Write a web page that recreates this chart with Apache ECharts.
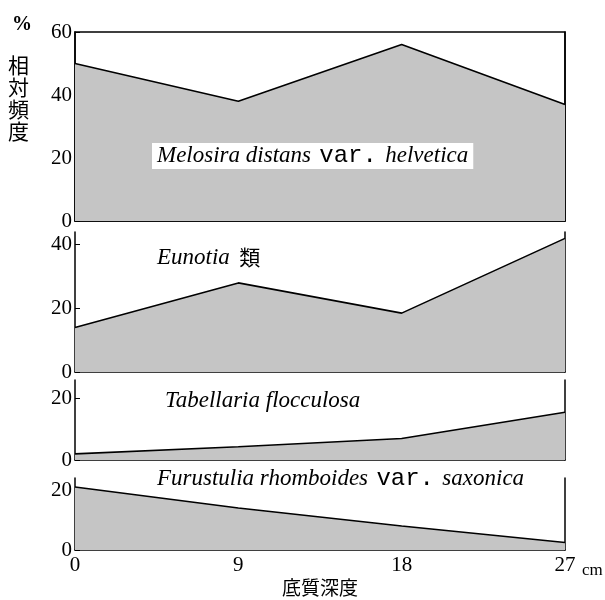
<!DOCTYPE html>
<html><head><meta charset="utf-8">
<script src="https://cdn.jsdelivr.net/npm/echarts@6/dist/echarts.min.js"></script>
<style>html,body{margin:0;padding:0;background:#fff}#c{width:605px;height:600px}</style>
</head><body><div id="c"></div>
<script>
const depths = [0, 9, 18, 27];
const xTicks = ['0', '9', '18', '27'];
const melosira = [50, 38, 56, 37];
const eunotia = [14, 28, 18.5, 42];
const tabellaria = [2, 4.3, 7, 15.5];
const furustulia = [21, 14, 8, 2.5];
const yMax = [60, 44, 26, 24];
const yTickValues = [[0, 20, 40, 60], [0, 20, 40], [0, 20], [0, 20]];

const panels = [
  {top: 32, height: 189, data: melosira, box: true},
  {top: 232, height: 140, data: eunotia},
  {top: 380, height: 80, data: tabellaria},
  {top: 478, height: 72, data: furustulia}
];
const serif = '"Liberation Serif", "DejaVu Serif", serif';
const mono = '"Liberation Mono", "DejaVu Sans Mono", monospace';
const cjk = '"Noto Sans CJK JP", sans-serif';

const grid = [], xAxis = [], yAxis = [], series = [];
panels.forEach((p, i) => {
  grid.push({left: 75, right: 40, top: p.top, height: p.height,
    show: !!p.box, borderColor: '#000', borderWidth: 1.5, backgroundColor: 'transparent'});
  xAxis.push({type: 'value', gridIndex: i, min: 0, max: 27, interval: 9,
    axisLine: {show: true, onZero: false, lineStyle: {color: '#000', width: 1.5}},
    axisTick: {show: false}, splitLine: {show: false},
    axisLabel: {show: i === 3, color: '#000', fontFamily: serif, fontSize: 21, margin: 5,
      formatter: v => xTicks[depths.indexOf(v)] ?? ''}});
  yAxis.push({type: 'value', gridIndex: i, min: 0, max: yMax[i], interval: 20,
    axisLine: {show: true, lineStyle: {color: '#000', width: 1.5}},
    axisTick: {show: true, inside: true, length: 5, lineStyle: {color: '#000'},
      customValues: yTickValues[i]},
    splitLine: {show: false},
    axisLabel: {color: '#000', fontFamily: serif, fontSize: 21, margin: 3,
      customValues: yTickValues[i]}});
  yAxis.push({type: 'value', gridIndex: i, position: 'right', min: 0, max: yMax[i],
    axisLine: {show: true, lineStyle: {color: '#000', width: 1.5}},
    axisTick: {show: false}, axisLabel: {show: false}, splitLine: {show: false}});
  series.push({type: 'line', xAxisIndex: i, yAxisIndex: i * 2,
    data: depths.map((d, k) => [d, p.data[k]]),
    symbol: 'none', lineStyle: {color: '#000', width: 1.6},
    areaStyle: {color: '#c5c5c5', opacity: 1}, silent: true, z: 1});
});

const it = {fontFamily: serif, fontStyle: 'italic', fontSize: 23, fill: '#000', color: '#000'};
const mn = {fontFamily: mono, fontSize: 24, fill: '#000', color: '#000', padding: [0, 5, 0, 5]};
const cj = {fontFamily: cjk, fontSize: 21, fill: '#000', color: '#000', padding: [0, 0, 0, 6]};
function lbl(x, y, text) {
  return {type: 'text', left: x, top: y, z: 10,
    style: {text: text, rich: {i: it, m: mn, c: cj}, backgroundColor: '#fff',
      padding: [1, 5, 1, 5], fill: '#000', verticalAlign: 'middle'}};
}
const graphic = [
  lbl(152, 143, '{i|Melosira distans} {m|var.} {i|helvetica}'),
  lbl(152, 245, '{i|Eunotia} {c|類}'),
  lbl(160, 388, '{i|Tabellaria flocculosa}'),
  lbl(152, 466, '{i|Furustulia rhomboides} {m|var.} {i|saxonica}'),
  {type: 'text', left: 12, top: 15, style: {text: '%', font: 'bold 20px ' + serif, fill: '#000'}},
  {type: 'text', left: 8, top: 54, style: {text: '相\n対\n頻\n度', fontFamily: cjk, fontSize: 21, lineHeight: 22, fill: '#000'}},
  {type: 'text', left: 282, top: 578, style: {text: '底質深度', fontFamily: cjk, fontSize: 19, fill: '#000'}},
  {type: 'text', left: 582, top: 562, style: {text: 'cm', fontFamily: serif, fontSize: 17, fill: '#000'}}
];

const chart = echarts.init(document.getElementById('c'));
chart.setOption({animation: false, backgroundColor: '#fff', grid, xAxis, yAxis, series, graphic});
</script></body></html>
